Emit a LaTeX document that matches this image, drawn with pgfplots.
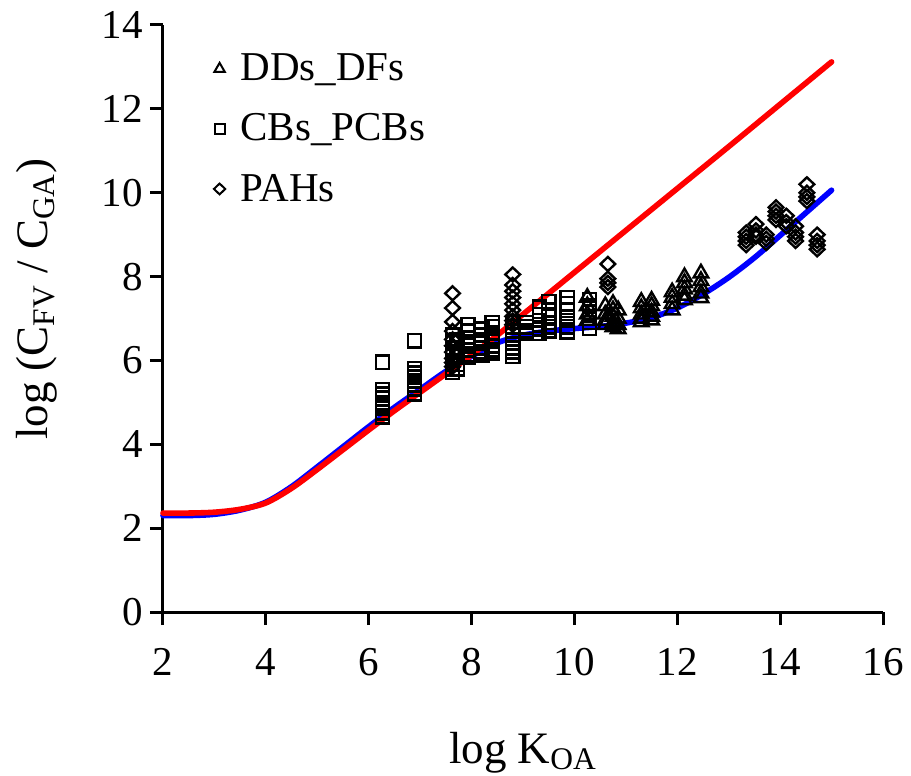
\documentclass[border=0pt]{standalone}
\usepackage{pgfplots}
\pgfplotsset{compat=1.18}
\usepackage{fontspec}
\setmainfont{Liberation Serif}
\begin{document}
\begin{tikzpicture}
\useasboundingbox (-81.5pt,-82pt) rectangle (374pt,306pt);
\begin{axis}[
  at={(0pt,0pt)}, anchor=south west,
  scale only axis, width=360pt, height=293.5pt,
  xmin=2, xmax=16, ymin=0, ymax=14,
  xtick={2,4,...,16}, ytick={0,2,...,14},
  axis x line*=bottom, axis y line*=left,
  axis line style={line width=1.5pt},
  tick style={line width=1.5pt, black},
  tick align=outside, major tick length=6.5pt,
  /pgf/number format/assume math mode=true,
  tick label style={font=\fontsize{20.5}{24}\selectfont},
  xticklabel style={yshift=-8pt},
  label style={font=\fontsize{22.5}{27}\selectfont},
  xlabel={log K\textsubscript{OA}},
  ylabel={log (C\textsubscript{FV} / C\textsubscript{GA})},
  xlabel style={at={(axis description cs:0.5,-0.239)}, anchor=center},
  ylabel style={at={(axis description cs:-0.175,0.533)}, anchor=center},
  legend style={draw=none, fill=none, at={(0.035,0.965)}, anchor=north west,
    font=\fontsize{20.5}{24}\selectfont, row sep=11pt},
  legend cell align=left,
  legend image code/.code={\path (0pt,0pt) (20pt,0pt); \draw[#1,only marks] plot coordinates {(12pt,0pt)};},
  clip=false,
]
\addplot[blue, line width=2.8pt, line cap=round, smooth, forget plot] coordinates {
(2,2.3) (2.5,2.3) (3,2.33) (3.5,2.43) (4,2.62) (4.5,2.99) (5,3.46) (5.5,3.94)
(6,4.42) (6.5,4.88) (7,5.31) (7.5,5.74) (8,6.1) (8.5,6.42) (9,6.6) (9.5,6.7)
(10,6.76) (10.5,6.81) (11,6.89) (11.5,7.02) (12,7.25) (12.5,7.58) (13,7.98)
(13.5,8.45) (14,8.98) (14.5,9.52) (15,10.06)};
\addplot[red, line width=2.8pt, line cap=round, smooth, forget plot] coordinates {
(2,2.36) (2.5,2.36) (3,2.38) (3.5,2.45) (4,2.6) (4.5,2.95) (5,3.4) (5.5,3.87)
(6,4.34) (6.5,4.8) (7,5.24) (7.5,5.68) (8,6.13) (8.5,6.6) (9,7.1) (10,8.1)
(11,9.1) (12,10.1) (13,11.1) (14,12.11) (15,13.12)};
% DDs_DFs
\addplot[only marks, mark=triangle, mark size=4.2pt, black, line width=1.2pt,
  legend image post style={mark size=3pt, line width=1pt}] coordinates {
(10.25,7.5) (10.25,7.3) (10.25,7.1) (10.25,6.95)
(10.6,7.3) (10.6,7.1) (10.6,6.95) (10.6,6.85)
(10.75,7.35) (10.75,7.2) (10.75,7.05) (10.75,6.9) (10.75,6.8)
(10.85,7.2) (10.85,7.0) (10.85,6.85) (10.85,6.75)
(11.3,7.4) (11.3,7.25) (11.3,7.1) (11.3,7.0) (11.3,6.92)
(11.5,7.43) (11.5,7.3) (11.5,7.15) (11.5,7.05) (11.5,6.96)
(11.9,7.63) (11.9,7.5) (11.9,7.35) (11.9,7.2)
(12.14,7.99) (12.14,7.85) (12.14,7.7) (12.14,7.55) (12.14,7.44)
(12.46,8.08) (12.46,7.9) (12.46,7.75) (12.46,7.6) (12.46,7.49)};
\addlegendentry{DDs\_DFs}
% CBs_PCBs
\addplot[only marks, mark=square, mark size=3.3pt, black, line width=1.2pt,
  legend image post style={mark size=2.5pt, line width=1pt}] coordinates {
(6.27,5.96) (6.27,5.30) (6.27,5.20) (6.27,5.10) (6.27,5.00) (6.27,4.92) (6.27,4.85) (6.27,4.75) (6.27,4.65)
(6.89,6.47) (6.89,5.80) (6.89,5.70) (6.89,5.60) (6.89,5.52) (6.89,5.42) (6.89,5.32) (6.89,5.20)
(7.63,6.60) (7.63,6.45) (7.63,6.30) (7.63,6.20) (7.63,6.10) (7.63,6.00) (7.63,5.90) (7.63,5.80) (7.63,5.72)
(7.72,6.5) (7.72,6.3) (7.72,6.1) (7.72,5.9) (7.72,5.8)
(7.93,6.85) (7.93,6.70) (7.93,6.55) (7.93,6.45) (7.93,6.35) (7.93,6.25) (7.93,6.15) (7.93,6.08)
(8.2,6.75) (8.2,6.6) (8.2,6.5) (8.2,6.4) (8.2,6.3) (8.2,6.2) (8.2,6.13)
(8.4,6.9) (8.4,6.8) (8.4,6.65) (8.4,6.55) (8.4,6.45) (8.4,6.35) (8.4,6.25) (8.4,6.18)
(8.8,6.9) (8.8,6.8) (8.8,6.7) (8.8,6.6) (8.8,6.5) (8.8,6.4) (8.8,6.3) (8.8,6.2) (8.8,6.1)
(9.07,6.9) (9.07,6.8) (9.07,6.7) (9.07,6.65)
(9.32,7.27) (9.32,7.1) (9.32,6.95) (9.32,6.85) (9.32,6.75) (9.32,6.65)
(9.5,7.4) (9.5,7.2) (9.5,7.05) (9.5,6.9) (9.5,6.8) (9.5,6.7)
(9.86,7.5) (9.86,7.35) (9.86,7.2) (9.86,7.05) (9.86,6.95) (9.86,6.8) (9.86,6.68)
(10.29,7.45) (10.29,7.3) (10.29,7.15) (10.29,7.0) (10.29,6.9) (10.29,6.77)};
\addlegendentry{CBs\_PCBs}
% PAHs
\addplot[only marks, mark=diamond, mark size=3.5pt, black, line width=1.2pt,
  mark options={xscale=1.4},
  legend image post style={mark size=2.7pt, line width=1pt}] coordinates {
(7.63,7.6) (7.63,7.25) (7.63,6.92) (7.63,6.7) (7.63,6.5) (7.63,6.35) (7.63,6.2) (7.63,6.05) (7.63,5.95) (7.63,5.85)
(8.8,8.05) (8.8,7.8) (8.8,7.65) (8.8,7.5) (8.8,7.35) (8.8,7.2) (8.8,7.05) (8.8,6.95) (8.8,6.85)
(10.65,8.3) (10.65,7.95) (10.65,7.85) (10.65,7.75)
(13.34,9.05) (13.34,8.95) (13.34,8.85) (13.34,8.75)
(13.53,9.25) (13.53,9.1) (13.53,9.0) (13.53,8.95)
(13.73,9.0) (13.73,8.9) (13.73,8.8)
(13.92,9.65) (13.92,9.55) (13.92,9.45) (13.92,9.35)
(14.12,9.45) (14.12,9.3) (14.12,9.2)
(14.3,9.2) (14.3,9.05) (14.3,8.95) (14.3,8.85)
(14.52,10.2) (14.52,10.0) (14.52,9.9) (14.52,9.8)
(14.72,9.0) (14.72,8.85) (14.72,8.75) (14.72,8.65)};
\addlegendentry{PAHs}
\end{axis}
\end{tikzpicture}
\end{document}
